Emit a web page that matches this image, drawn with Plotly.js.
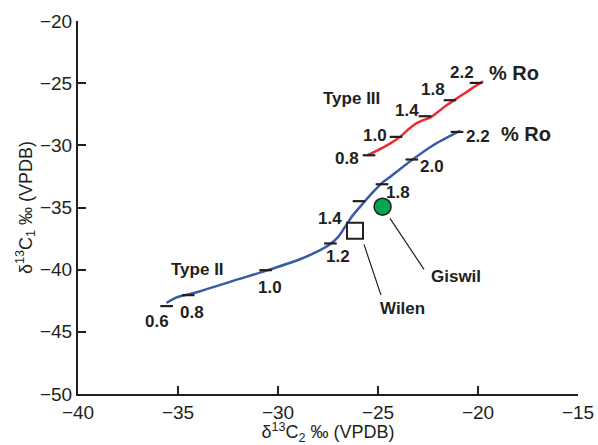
<!DOCTYPE html>
<html>
<head>
<meta charset="utf-8">
<script src="https://cdn.plot.ly/plotly-3.0.1.min.js"></script>
<style>html,body{margin:0;padding:0;background:#fff;}#chart{width:598px;height:445px;}</style>
</head>
<body>
<div id="chart"></div>
<script>
// Type II maturity curve (blue)
const typeIIx = [-35.57, -35.07, -34.49, -33.9, -32.24, -30.62, -28.9, -28.07, -27.4, -26.99, -26.65, -26.32, -25.9, -25.24, -24.74, -24.4, -23.32, -22.24, -20.9];
const typeIIy = [-42.67, -42.23, -41.99, -41.73, -40.90, -40.10, -39.16, -38.57, -37.95, -37.36, -36.56, -35.76, -34.95, -33.75, -32.94, -32.54, -31.2, -29.99, -28.84];
// Type III maturity curve (red)
const typeIIIx = [-25.54, -25.07, -24.4, -23.9, -23.49, -23.15, -22.74, -22.4, -22.07, -21.57, -21.07, -20.57, -20.07, -19.74];
const typeIIIy = [-30.80, -30.45, -29.86, -29.32, -28.73, -28.30, -27.98, -27.77, -27.40, -26.78, -26.24, -25.71, -25.17, -24.85];

// %Ro marks on Type II
const roIIvals = ["0.6", "0.8", "1.0", "1.2", "1.4", "1.8", "2.0", "2.2"];
const roIImarkX = [-35.57, -34.49, -30.62, -27.38, -25.95, -24.8, -23.31, -21.05];
const roIImarkY = [-42.93, -42.05, -40.04, -37.89, -34.49, -33.13, -31.14, -28.92];
const roIIlabelX = [-36.04, -34.32, -30.4, -26.99, -27.4, -23.99, -22.32, -19.99];
const roIIlabelY = [-44.2, -43.47, -41.43, -38.97, -35.88, -33.83, -31.74, -29.32];

// %Ro marks on Type III
const roIIIvals = ["0.8", "1.0", "1.4", "1.8", "2.2"];
const roIIImarkX = [-25.45, -24.1, -22.65, -21.4, -20.1];
const roIIImarkY = [-30.80, -29.32, -27.66, -26.37, -24.98];
const roIIIlabelX = [-26.57, -25.15, -23.57, -22.24, -20.82];
const roIIIlabelY = [-31.06, -29.19, -27.23, -25.51, -24.18];

// Other labels
const otherLabels = ["% Ro", "% Ro", "Type III", "Type II", "Wilen", "Giswil"];
const otherLabelX = [-17.6, -18.2, -26.32, -34.02, -23.79, -21.1];
const otherLabelY = [-29.05, -24.18, -26.24, -39.98, -43.12, -40.52];

// Samples
const wilenX = [-26.15], wilenY = [-36.86];
const giswilX = [-24.77], giswilY = [-34.93];
// Leader lines (sample -> label)
const leaderX = [-25.7, -24.85, null, -24.4, -22.7];
const leaderY = [-37.97, -42.05, null, -35.88, -39.98];

const ink = '#231f20';
const traces = [
  {x: typeIIx, y: typeIIy, mode: 'lines', line: {color: '#3a5aa8', width: 2.5, shape: 'spline', smoothing: 0.8}, hoverinfo: 'skip'},
  {x: typeIIIx, y: typeIIIy, mode: 'lines', line: {color: '#ec2a2e', width: 2.5, shape: 'spline', smoothing: 0.8}, hoverinfo: 'skip'},
  {x: roIImarkX, y: roIImarkY, mode: 'markers', marker: {symbol: 'line-ew', size: 9, line: {color: ink, width: 2.2}}},
  {x: roIIImarkX, y: roIIImarkY, mode: 'markers', marker: {symbol: 'line-ew', size: 9, line: {color: ink, width: 2.2}}},
  {x: leaderX, y: leaderY, mode: 'lines', line: {color: ink, width: 1.2}},
  {x: wilenX, y: wilenY, mode: 'markers', marker: {symbol: 'square', size: 16, color: '#ffffff', line: {color: ink, width: 2}}},
  {x: giswilX, y: giswilY, mode: 'markers', marker: {symbol: 'circle', size: 17, color: '#00a651', line: {color: ink, width: 1.5}}}
];

const bold = {family: 'Liberation Sans, Arial, sans-serif', size: 17, color: ink};
const annotations = [];
roIIvals.forEach((t, i) => annotations.push({x: roIIlabelX[i], y: roIIlabelY[i], text: '<b>' + t + '</b>', showarrow: false, font: bold}));
roIIIvals.forEach((t, i) => annotations.push({x: roIIIlabelX[i], y: roIIIlabelY[i], text: '<b>' + t + '</b>', showarrow: false, font: bold}));
otherLabels.forEach((t, i) => annotations.push({x: otherLabelX[i], y: otherLabelY[i], text: '<b>' + t + '</b>', showarrow: false,
  font: Object.assign({}, bold, {size: t === '% Ro' ? 20 : 17})}));

const axisFont = {family: 'Liberation Sans, Arial, sans-serif', size: 19, color: ink};
const layout = {
  width: 598, height: 445,
  margin: {l: 78, r: 20, t: 21, b: 51},
  paper_bgcolor: '#ffffff', plot_bgcolor: '#ffffff',
  showlegend: false,
  xaxis: {range: [-40, -15], dtick: 5, tick0: -40, ticks: 'inside', ticklen: 8, tickwidth: 2, tickcolor: ink,
    showline: true, linewidth: 2, linecolor: ink, showgrid: false, zeroline: false, mirror: false,
    tickfont: axisFont,
    title: {text: 'δ<sup>13</sup>C<sub>2</sub> ‰ (VPDB)', font: {family: axisFont.family, size: 18, color: ink}, standoff: 8}},
  yaxis: {range: [-50, -20], dtick: 5, tick0: -50, ticks: 'inside', ticklen: 8, tickwidth: 2, tickcolor: ink,
    showline: true, linewidth: 2, linecolor: ink, showgrid: false, zeroline: false, mirror: false,
    tickfont: axisFont,
    title: {text: 'δ<sup>13</sup>C<sub>1</sub> ‰ (VPDB)', font: {family: axisFont.family, size: 18, color: ink}, standoff: 3}},
  annotations: annotations
};
Plotly.newPlot('chart', traces, layout, {displayModeBar: false, staticPlot: true});
</script>
</body>
</html>
